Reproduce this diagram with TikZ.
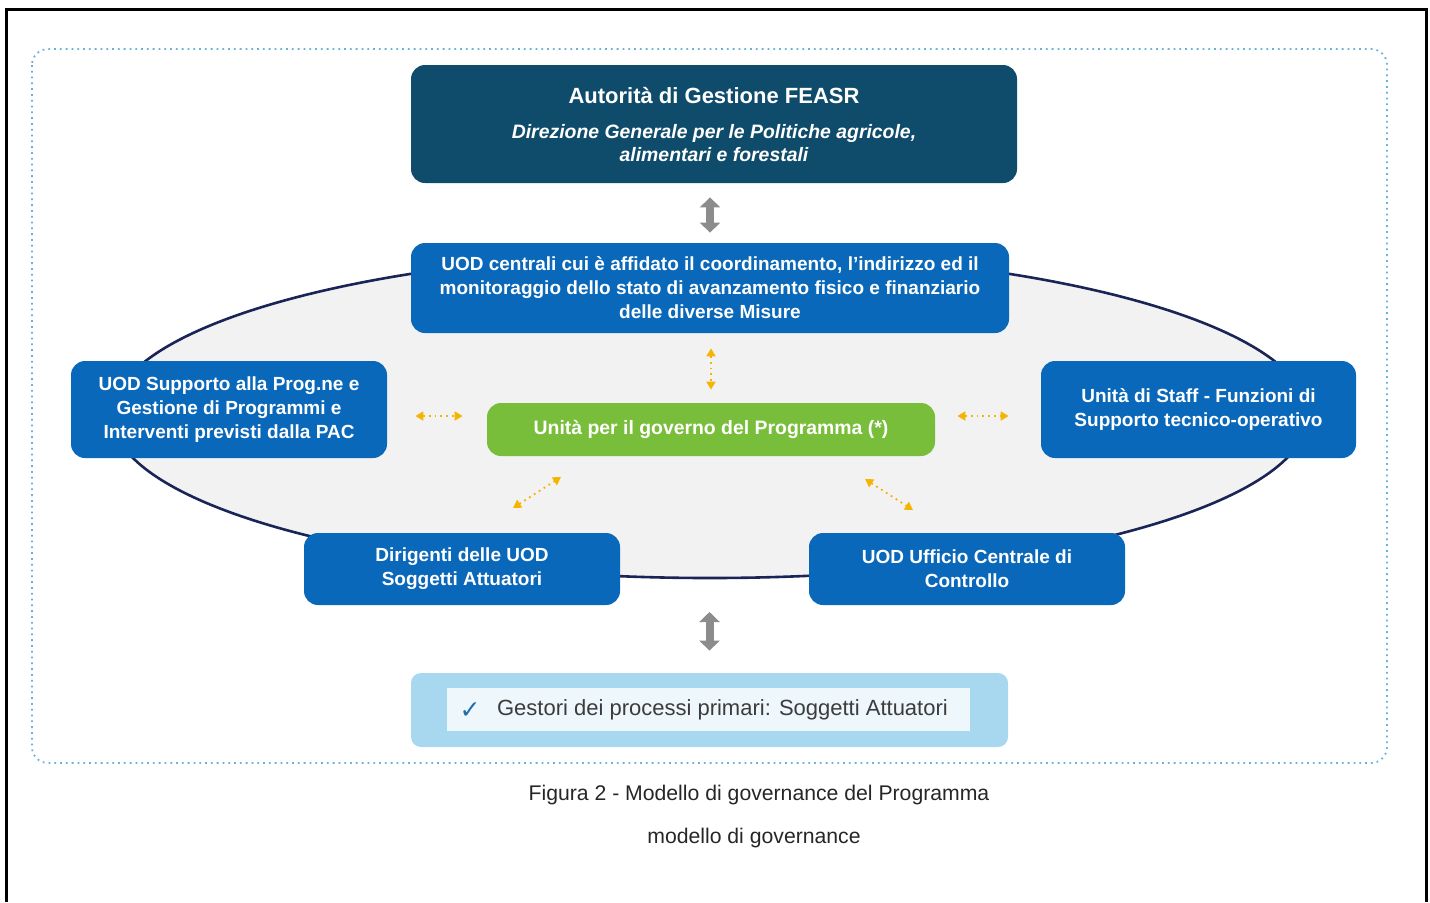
\documentclass[tikz,border=0pt]{standalone}
\usepackage{fontspec}
\setmainfont{Liberation Sans}
\newfontfamily\symfont{DejaVu Sans}
\usetikzlibrary{arrows.meta}
\definecolor{autc}{HTML}{0F4C6B}
\definecolor{uodc}{HTML}{0A68BA}
\definecolor{grnc}{HTML}{78BE3A}
\definecolor{bandc}{HTML}{A8D8F0}
\definecolor{innerc}{HTML}{EEF7FC}
\definecolor{navyc}{HTML}{1B2457}
\definecolor{orngc}{HTML}{F5B400}
\definecolor{dotbc}{HTML}{6BB3D6}
\definecolor{gtxtc}{HTML}{3C3C3C}
\definecolor{chkc}{HTML}{1F6FAE}
\tikzset{
  boxbase/.style={rounded corners=7pt, inner sep=0pt, align=center, text=white},
  bluebox/.style={boxbase, fill=uodc, font=\bfseries\fontsize{9.5}{12}\selectfont},
  autbox/.style={boxbase, fill=autc},
  greenbox/.style={boxbase, fill=grnc, font=\bfseries\fontsize{9.7}{12}\selectfont},
  greyarrow/.style={draw=black!45, line width=4pt, {Triangle[width=10pt,length=5pt]}-{Triangle[width=10pt,length=5pt]}},
  orarrow/.style={draw=orngc, line width=0.9pt, dotted, {Triangle[width=4.5pt,length=4pt]}-{Triangle[width=4.5pt,length=4pt]}},
  caption/.style={font=\fontsize{10.6}{12}\selectfont, text=black!85}
}
\begin{document}
\begin{tikzpicture}[x=0.5pt,y=-0.5pt]
\useasboundingbox (0,0) rectangle (1430,902);
% outer frame
\draw[line width=1.5pt] (6.5,902) -- (6.5,9.5) -- (1426.5,9.5) -- (1426.5,902);
% dotted panel
\draw[dotbc, line width=0.9pt, dotted, rounded corners=8pt] (32,49) rectangle (1387,763);
% ellipse
\draw[navyc, line width=1.3pt, fill=black!5] (710,415) ellipse [x radius=598, y radius=163];

% nodes
\node[autbox, minimum width=303pt, minimum height=59pt] (aut) at (714,124) {};
\node[text=white, font=\bfseries\fontsize{11}{12}\selectfont] (autt) at (714,96) {Autorità di Gestione FEASR};
\node[text=white, font=\bfseries\itshape\fontsize{9.7}{11.5}\selectfont, align=center] (autd) at (714,143) {Direzione Generale per le Politiche agricole,\\alimentari e forestali};

\node[bluebox, minimum width=299pt, minimum height=45pt] (cent) at (710,288)
  {UOD centrali cui è affidato il coordinamento, l’indirizzo ed il\\monitoraggio dello stato di avanzamento fisico e finanziario\\delle diverse Misure};
\node[bluebox, minimum width=158pt, minimum height=48.5pt] (sup) at (229,409.5)
  {UOD Supporto alla Prog.ne e\\Gestione di Programmi e\\Interventi previsti dalla PAC};
\node[bluebox, minimum width=157.5pt, minimum height=48.5pt] (staff) at (1198.5,409.5)
  {Unità di Staff - Funzioni di\\Supporto tecnico-operativo};
\node[greenbox, minimum width=224pt, minimum height=26.5pt] (gov) at (711,429.5)
  {Unità per il governo del Programma (*)};
\node[bluebox, minimum width=158pt, minimum height=36pt] (dir) at (462,569)
  {Dirigenti delle UOD\\Soggetti Attuatori};
\node[bluebox, minimum width=158pt, minimum height=36pt] (uff) at (967,569)
  {UOD Ufficio Centrale di\\Controllo};

% bottom band
\node[boxbase, fill=bandc, rounded corners=5pt, minimum width=298.5pt, minimum height=37pt] (band) at (709.5,710) {};
\node[fill=innerc, inner sep=0pt, minimum width=261.5pt, minimum height=21.5pt] (inner) at (708.5,709.5) {};
\node[text=chkc, font=\symfont\fontsize{12.5}{12}\selectfont] (chk) at (470,711) {✓};
\node[anchor=west, text=gtxtc, font=\fontsize{11}{12}\selectfont] (gest) at (490,710) {Gestori dei processi primari: Soggetti Attuatori};

% grey double arrows
\draw[greyarrow, shorten <=7pt, shorten >=5pt] (aut.south -| cent.north) -- (cent.north);
\coordinate (gtop) at (709.5,612);
\draw[greyarrow, shorten >=11pt] (gtop) -- (band.north);

% orange dotted arrows
\draw[orarrow, shorten <=7.5pt, shorten >=6.5pt] ([xshift=0.5pt]cent.south) -- (gov.north);
\draw[orarrow, shorten <=14pt, shorten >=12pt] ([yshift=-3.25pt]sup.east) -- ([yshift=-3.25pt]sup.east -| gov.west);
\draw[orarrow, shorten <=11pt, shorten >=16pt] ([yshift=-3.25pt]gov.east |- staff.west) -- ([yshift=-3.25pt]staff.west);
\coordinate (dl1) at (513,508);
\coordinate (dl2) at (561,477);
\draw[orarrow] (dl1) -- (dl2);
\coordinate (dr1) at (865,479);
\coordinate (dr2) at (913,510);
\draw[orarrow] (dr1) -- (dr2);

% captions
\node[caption] (cap1) at (759,795) {Figura 2 - Modello di governance del Programma};
\node[caption] (cap2) at (754,838) {modello di governance};
\end{tikzpicture}
\end{document}
